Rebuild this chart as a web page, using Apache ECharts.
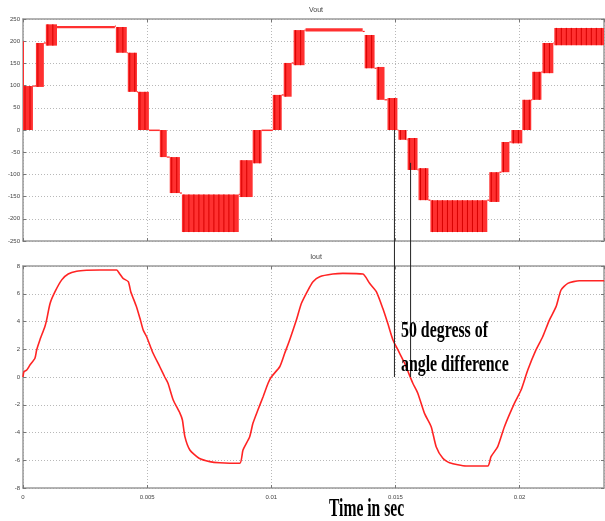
<!DOCTYPE html>
<html><head><meta charset="utf-8">
<script src="https://cdn.jsdelivr.net/npm/echarts@6/dist/echarts.min.js"></script>
<style>html,body{margin:0;padding:0;background:#fff}#c{width:605px;height:521px}</style>
</head><body><div id="c"></div>
<script>
// Vout: PWM bands (time start, time end, low level, high level)
const vStart=[0,0,0.00052,0.00092,0.00137,0.00374,0.00422,0.00463,0.00507,0.00551,0.00591,0.00640,0.00873,0.00925,0.00961,0.01006,0.01050,0.01090,0.01138,0.01376,0.01424,0.01468,0.01512,0.01549,0.01593,0.01641,0.01878,0.01927,0.01967,0.02011,0.02051,0.02092,0.02140];
const vEnd=[0.00003,0.00040,0.00084,0.00137,0.00370,0.00418,0.00459,0.00507,0.00551,0.00579,0.00632,0.00869,0.00925,0.00961,0.01006,0.01042,0.01082,0.01134,0.01368,0.01416,0.01456,0.01508,0.01545,0.01589,0.01633,0.01870,0.01919,0.01959,0.02011,0.02047,0.02088,0.02136,0.02341];
const vLow=[0,0,97,190,229,174,86,0,-2,-61,-142,-230,-151,-75,-2,0,75,146,222,139,68,0,-22,-90,-158,-230,-162,-95,-30,0,68,128,191];
const vHigh=[200,99,196,238,234,232,174,86,1,0,-61,-145,-68,0,1,79,151,225,229,214,142,72,0,-18,-86,-158,-95,-27,0,68,131,196,230];
// Iout curve
const iTime=[0,0.00004,0.00015,0.00028,0.00048,0.00055,0.00068,0.00088,0.00095,0.00109,0.00129,0.00156,0.00182,0.00216,0.00256,0.00310,0.00377,0.00390,0.00403,0.00424,0.00434,0.00457,0.00471,0.00484,0.00498,0.00524,0.00551,0.00571,0.00584,0.00605,0.00632,0.00642,0.00652,0.00672,0.00709,0.00752,0.00792,0.00873,0.00886,0.00913,0.00926,0.00946,0.00967,0.00987,0.01000,0.01034,0.01054,0.01074,0.01101,0.01121,0.01148,0.01168,0.01195,0.01248,0.01288,0.01369,0.01396,0.01423,0.01449,0.01469,0.01490,0.01510,0.01537,0.01570,0.01590,0.01617,0.01644,0.01664,0.01691,0.01718,0.01785,0.01872,0.01885,0.01912,0.01939,0.01979,0.02006,0.02033,0.02066,0.02093,0.02120,0.02147,0.02167,0.02194,0.02241,0.02341];
const iVal=[0,0.38,0.5,0.86,1.35,1.95,2.67,3.63,4.1,5.3,6.15,7.0,7.42,7.62,7.69,7.71,7.71,7.42,7.11,6.87,6.15,5.07,4.23,3.39,2.9,1.71,0.74,0,-0.45,-1.66,-2.6,-3.1,-4.3,-5.26,-5.86,-6.1,-6.18,-6.22,-5.26,-4.3,-3.34,-2.38,-1.42,-0.45,0,0.74,1.71,2.67,4.1,5.3,6.27,6.87,7.23,7.42,7.47,7.42,6.75,6.15,4.95,3.87,2.67,1.95,0.99,-0.45,-1.17,-2.62,-3.58,-5.02,-5.86,-6.18,-6.41,-6.41,-5.74,-5.02,-3.58,-1.9,-0.94,0.5,1.95,2.9,4.1,5.07,6.27,6.75,6.94,6.94];
// axis ticks
const xTickLabels=['0','0.005','0.01','0.015','0.02'];
// annotation: two vertical markers (time, Vout start level, Iout end level)
const annoT=[0.01496,0.01561];
const annoV=[0,-74];
const annoI=[0,0];

const chart=echarts.init(document.getElementById('c'));
const bandData=vStart.map((s,i)=>[s,vEnd[i],vLow[i],vHigh[i],i]);
function renderBand(params,api){
  const s=api.value(0),e=api.value(1),lo=api.value(2),hi=api.value(3),i=api.value(4);
  const p0=api.coord([s,hi]),p1=api.coord([e,lo]);
  const x=p0[0],y=p0[1],w=Math.max(1,p1[0]-p0[0]),h=Math.max(1.5,p1[1]-p0[1]);
  const ch=[{type:'rect',shape:{x:x,y:y,width:w,height:h},style:{fill:'#ff3030'}}];
  if(h>4){for(let sx=x+2;sx<x+w-1;sx+=5){ch.push({type:'line',shape:{x1:sx,y1:y,x2:sx,y2:y+h},style:{stroke:'#d80000',lineWidth:1}});}}
  if(i+1<vStart.length && i>0){
    const nl=vLow[i+1],nh=vHigh[i+1];
    const cands=[lo,hi];let best=lo,bd=1e9;
    cands.forEach(c=>{const d=Math.min(Math.abs(c-nl),Math.abs(c-nh));if(d<bd){bd=d;best=c;}});
    const a=api.coord([e,best]),b=api.coord([vStart[i+1],best]);
    ch.push({type:'line',shape:{x1:a[0],y1:a[1],x2:b[0],y2:b[1]},style:{stroke:'#ff2020',lineWidth:1.2}});
  }
  return {type:'group',children:ch};
}
const lab={fontSize:6,color:'#444',fontFamily:'Liberation Sans'};
const split={show:true,lineStyle:{type:[1,2],color:'#b8b8b8',width:1}};
const aline={show:true,onZero:false,lineStyle:{color:'#9a9a9a',width:1.5}};
function xa(g,pos,labels,sp){return {type:'value',gridIndex:g,position:pos,min:0,max:0.0234,interval:0.005,
  axisLine:aline,axisTick:{show:true,inside:true,length:3,lineStyle:{color:'#777'}},
  axisLabel:labels?{show:true,margin:6,showMaxLabel:false,...lab,formatter:v=>xTickLabels[Math.round(v/0.005)]||''}:{show:false},
  splitLine:sp?split:{show:false}};}
function ya(g,pos,mn,mx,iv,labels,sp){return {type:'value',gridIndex:g,position:pos,min:mn,max:mx,interval:iv,
  axisLine:aline,axisTick:{show:true,inside:true,length:3,lineStyle:{color:'#777'}},
  axisLabel:labels?{show:true,margin:3,...lab}:{show:false},splitLine:sp?split:{show:false}};}
chart.setOption({
  animation:false,
  backgroundColor:'#fff',
  grid:[{left:23,top:19,right:1,height:222},{left:23,top:266,right:1,height:222}],
  xAxis:[xa(0,'bottom',false,true),xa(1,'bottom',true,true),xa(0,'top',false,false),xa(1,'top',false,false)],
  yAxis:[ya(0,'left',-250,250,50,true,true),ya(1,'left',-8,8,2,true,true),ya(0,'right',-250,250,50,false,false),ya(1,'right',-8,8,2,false,false)],
  series:[
    {type:'custom',xAxisIndex:0,yAxisIndex:0,clip:true,renderItem:renderBand,data:bandData,encode:{x:[0,1],y:[2,3]}},
    {type:'line',xAxisIndex:1,yAxisIndex:1,data:iTime.map((t,i)=>[t,iVal[i]]),showSymbol:false,smooth:0.2,
      lineStyle:{color:'#ff2424',width:1.6}}
  ]
});
const g=[];
annoT.forEach((t,i)=>{
  const a=chart.convertToPixel({gridIndex:0},[t,annoV[i]]);
  const b=chart.convertToPixel({gridIndex:1},[t,annoI[i]]);
  g.push({type:'line',shape:{x1:a[0],y1:a[1],x2:b[0],y2:b[1]},style:{stroke:'#222',lineWidth:1},z:10});
});
const serif='"Liberation Serif","Times New Roman",serif';
g.push({type:'text',x:401,y:331,scaleX:0.69,z:11,style:{text:'50 degress of',x:0,y:0,font:'bold 23px '+serif,fill:'#000',verticalAlign:'middle'}});
g.push({type:'text',x:401,y:365,scaleX:0.69,z:11,style:{text:'angle difference',x:0,y:0,font:'bold 23px '+serif,fill:'#000',verticalAlign:'middle'}});
g.push({type:'text',x:329,y:509,scaleX:0.6,z:11,style:{text:'Time in sec',x:0,y:0,font:'bold 26px '+serif,fill:'#000',verticalAlign:'middle'}});
g.push({type:'text',x:316,y:10,style:{text:'Vout',x:0,y:0,font:'7px "Liberation Sans"',fill:'#444',align:'center',verticalAlign:'middle'}});
g.push({type:'text',x:316,y:257,style:{text:'Iout',x:0,y:0,font:'7px "Liberation Sans"',fill:'#444',align:'center',verticalAlign:'middle'}});
chart.setOption({graphic:{elements:g}});
</script></body></html>
